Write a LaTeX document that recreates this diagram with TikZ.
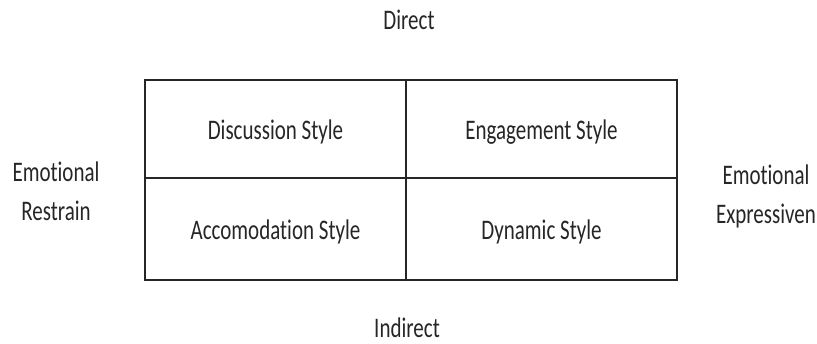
\documentclass[tikz,border=0pt]{standalone}
\usepackage{fontspec}
\setmainfont{Carlito}[Ligatures=NoCommon]
\usepackage{graphicx}
\usetikzlibrary{positioning}
\newcommand{\tall}[1]{\scalebox{1}[1.35]{#1}}
\tikzset{cell/.style={rectangle,draw=black!85,line width=1.4pt,outer sep=0pt,inner sep=0pt,text=black!85,text height=22pt,text depth=1pt},
  side label/.style={inner sep=0pt,text=black!85},
}

\begin{document}
\begin{tikzpicture}[x=1pt,y=1pt,node distance=0pt,font=\fontsize{21}{29.6}\selectfont]
	\useasboundingbox (0,0) rectangle (817,343);
	\node[cell,minimum width=261pt,minimum height=98pt] (ds) at (275.5,214) {\tall{Discussion Style}};
	\node[cell,minimum width=271pt,minimum height=98pt] (es) [right = of ds] {\tall{Engagement Style}};
	\node[cell,minimum width=261pt,minimum height=102pt] (as) [below = of ds] {\tall{Accomodation Style}};
	\node[cell,minimum width=271pt,minimum height=102pt] (dy) [right = of as] {\tall{Dynamic Style}};
	
	\node[side label] (dir) at (409,323) {\tall{Direct}};
	\node[side label] (ind) at (407,15) {\tall{Indirect}};
	\node[side label] (res) at (56,150) {\tall{\begin{tabular}{@{}c@{}}Emotional\\Restrain\end{tabular}}};
	\node[side label] (exp) at (766,147) {\tall{\begin{tabular}{@{}c@{}}Emotional\\Expressiven\end{tabular}}};
\end{tikzpicture}
\end{document}
